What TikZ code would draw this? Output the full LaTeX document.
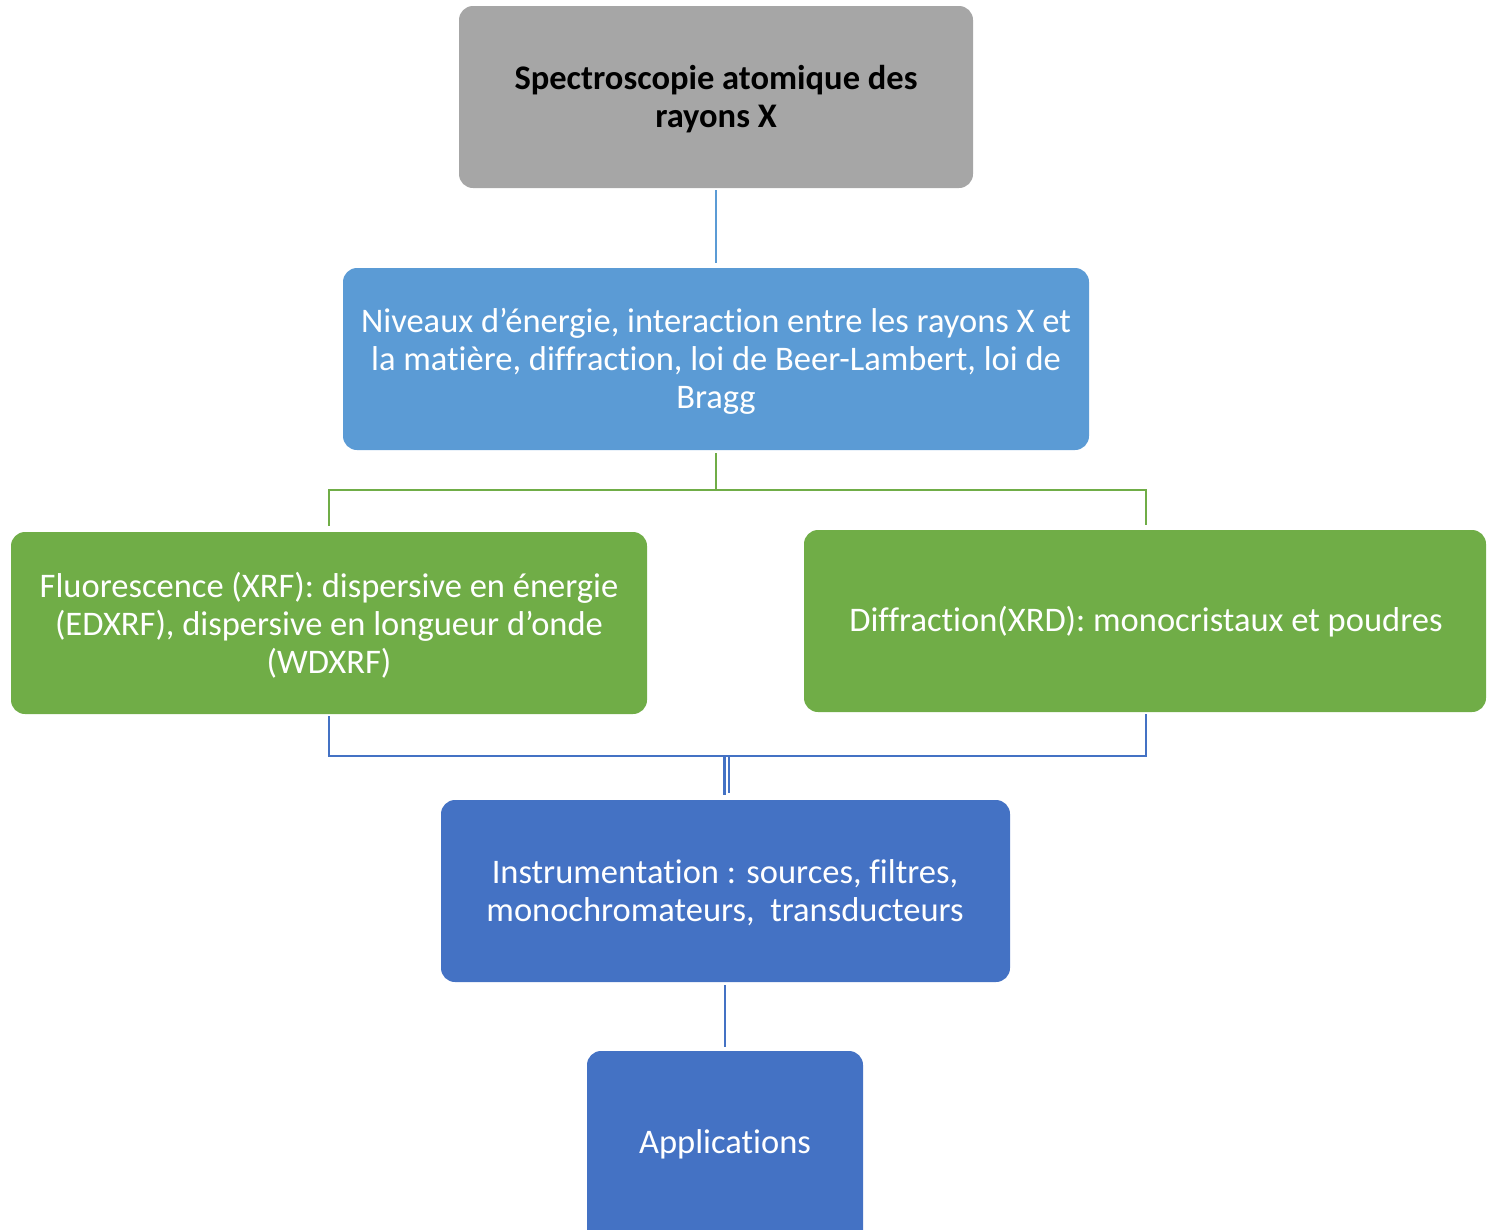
\documentclass[tikz,border=0pt]{standalone}
\usepackage{fontspec}
\setmainfont{Carlito}[RawFeature={-liga}]
\begin{document}
\begin{tikzpicture}[x=1pt,y=-1pt,
  box/.style={rounded corners=14pt, inner sep=0pt, align=center, text=white,
    font=\fontsize{34.5}{38}\selectfont},
  link/.style={line width=2.7pt},
  twin/.style={line width=2.2pt}]
\definecolor{greyfill}{HTML}{A6A6A6}
\definecolor{lightblue}{HTML}{5B9BD5}
\definecolor{leafgreen}{HTML}{70AD47}
\definecolor{deepblue}{HTML}{4472C4}
\useasboundingbox (0,0) rectangle (1487,1229);
\begin{scope}
\clip (0,0) rectangle (1487,1229);

% boxes
\fill[greyfill, rounded corners=14pt] (459,6) rectangle (973,188);
\node[box, text=black, font=\fontsize{34.5}{38}\selectfont\bfseries] (top) at (716,99)
  {Spectroscopie atomique des\\rayons X};
\coordinate (topS) at (716,190);

\fill[lightblue, rounded corners=14pt] (343,268) rectangle (1089,450);
\node[box] (theory) at (716,361)
  {Niveaux d’énergie, interaction entre les rayons X et\\la matière, diffraction, loi de Beer-Lambert, loi de\\Bragg};
\coordinate (theoryN) at (716,263);
\coordinate (theoryS) at (716,453);

\fill[leafgreen, rounded corners=14pt] (11,532) rectangle (647,714);
\node[box] (xrf) at (329,625)
  {Fluorescence (XRF): dispersive en énergie\\(EDXRF), dispersive en longueur d’onde\\(WDXRF)};
\coordinate (xrfN) at (329,526);
\coordinate (xrfS) at (329,716);

\fill[leafgreen, rounded corners=14pt] (804,530) rectangle (1486,712);
\node[box] (xrd) at (1146,622) {Diffraction(XRD): monocristaux et poudres};
\coordinate (xrdN) at (1146,525);
\coordinate (xrdS) at (1146,714);

\fill[deepblue, rounded corners=14pt] (441,800) rectangle (1010,982);
\node[box] (instr) at (725,893)
  {Instrumentation : sources, filtres,\\monochromateurs,\ \ transducteurs};
\coordinate (instrS) at (725,985);

\fill[deepblue, rounded corners=14pt] (587,1051) rectangle (863,1260);
\node[box] (appl) at (725,1144) {Applications};
\coordinate (applN) at (725,1047);

% connectors
\draw[link, lightblue] (topS) -- (theoryN);
\draw[link, leafgreen] (theoryS) -- (716,490) -| (xrfN);
\draw[link, leafgreen] (716,490) -| (xrdN);
\draw[link, deepblue] (xrfS) |- (727,756) coordinate (join);
\draw[link, deepblue] (join) -| (xrdS);
\draw[twin, deepblue] (724.5,757) -- (724.5,795);
\draw[twin, deepblue] (729,757) -- (729,793);
\draw[link, deepblue] (instrS) -- (applN);
\end{scope}
\end{tikzpicture}
\end{document}
